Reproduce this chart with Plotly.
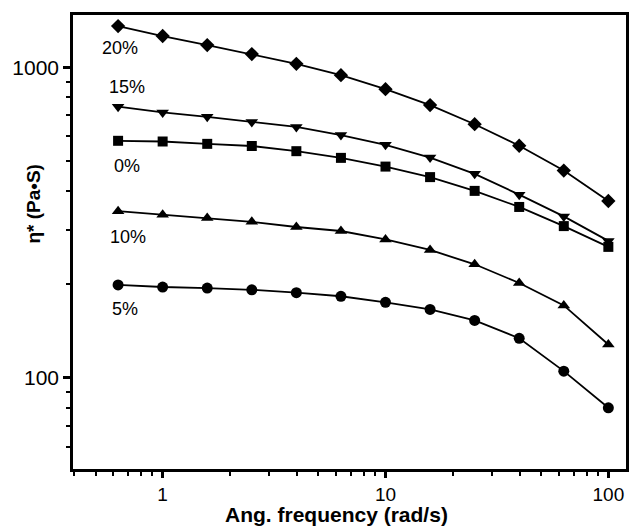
import plotly.graph_objects as go
import math

freq = [0.631, 1.0, 1.585, 2.512, 3.981, 6.31, 10.0, 15.85, 25.12, 39.81, 63.1, 100.0]

eta_20 = [1359, 1262, 1180, 1104, 1027, 944, 851, 756, 656, 559, 465, 371]
eta_15 = [747, 716, 693, 667, 643, 605, 563, 512, 454, 389, 331, 276]
eta_0 = [580, 577, 567, 558, 537, 511, 479, 443, 400, 355, 308, 264]
eta_10 = [344, 335, 327, 318, 306, 297, 279, 258, 232, 202, 171, 128]
eta_5 = [199, 196, 194.5, 192, 188, 183, 175, 166, 153, 134, 105, 80]

labels = ["20%", "15%", "0%", "10%", "5%"]
series = [eta_20, eta_15, eta_0, eta_10, eta_5]
symbols = ["diamond", "triangle-down", "square", "triangle-up", "circle"]
label_shift = [(2, -22), (9, 20), (9, -25), (10, -26), (7, -24)]

x_major = [1, 10, 100]
x_minor = [0.4, 0.5, 0.6, 0.7, 0.8, 0.9, 2, 3, 4, 5, 6, 7, 8, 9,
           20, 30, 40, 50, 60, 70, 80, 90]
y_major = [100, 1000]
y_minor = [60, 70, 80, 90, 200, 300, 400, 500, 600, 700, 800, 900]

FONT = "Arial, Liberation Sans, sans-serif"

fig = go.Figure()
for lab, ys, sym in zip(labels, series, symbols):
    fig.add_trace(go.Scatter(
        x=freq, y=ys, mode="lines+markers", name=lab,
        line=dict(color="black", width=1.8),
        marker=dict(symbol=sym, size=11 if sym != "square" else 10, color="black"),
        showlegend=False,
    ))

annotations = []
for lab, ys, (dx, dy) in zip(labels, series, label_shift):
    annotations.append(dict(
        x=math.log10(freq[0]), y=math.log10(ys[0]), xref="x", yref="y",
        text=lab, showarrow=False, xshift=dx, yshift=dy,
        xanchor="center", yanchor="middle",
        font=dict(family=FONT, size=18, color="black"),
    ))

annotations.append(dict(
    x=-0.072, y=0.585, xref="paper", yref="paper",
    xanchor="center", yanchor="middle",
    text="<b>η* (Pa•S)</b>", showarrow=False, textangle=-90,
    font=dict(family=FONT, size=19, color="black"),
))
annotations.append(dict(
    x=0.477, y=-0.1, xref="paper", yref="paper",
    xanchor="center", yanchor="middle",
    text="<b>Ang. frequency (rad/s)</b>", showarrow=False,
    font=dict(family=FONT, size=21, color="black"),
))

fig.update_layout(
    width=631, height=528,
    margin=dict(l=73, r=2, t=15, b=59),
    paper_bgcolor="white", plot_bgcolor="white",
    font=dict(family=FONT, size=20, color="black"),
    annotations=annotations,
)
fig.update_xaxes(
    type="log", range=[math.log10(0.396), math.log10(120)],
    showgrid=False, zeroline=False,
    showline=True, linecolor="black", linewidth=2.5, mirror=True,
    tickmode="array", tickvals=x_major, ticktext=[str(v) for v in x_major],
    ticks="outside", ticklen=6, tickwidth=2.5, tickcolor="black",
    minor=dict(tickmode="array", tickvals=x_minor, ticks="outside",
               ticklen=4, tickwidth=2, tickcolor="black"),
    tickfont=dict(family=FONT, size=19, color="black"),
)
fig.update_yaxes(
    type="log", range=[math.log10(50.8), math.log10(1475)],
    showgrid=False, zeroline=False,
    showline=True, linecolor="black", linewidth=2.5, mirror=True,
    tickmode="array", tickvals=y_major, ticktext=[str(v) for v in y_major],
    ticks="outside", ticklen=7, tickwidth=2.5, tickcolor="black",
    minor=dict(tickmode="array", tickvals=y_minor, ticks="outside",
               ticklen=4, tickwidth=2, tickcolor="black"),
    tickfont=dict(family=FONT, size=21, color="black"),
)

fig.write_html("out.html")
